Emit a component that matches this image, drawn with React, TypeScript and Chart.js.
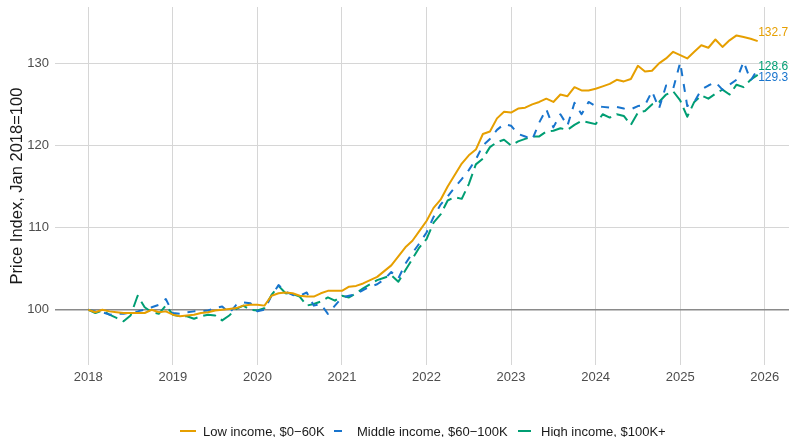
import React, { useEffect, useRef } from "react";
import { Chart, registerables } from "chart.js";

Chart.register(...registerables);

// ---- data (monthly, Jan 2018 .. Dec 2025) ----
const START_YEAR = 2018;

const seriesNames = [
  "Low income, $0\u221260K",
  "Middle income, $60\u2212100K",
  "High income, $100K+",
];

const lowIncome = [
  100.0, 99.7, 100.0, 99.8, 99.7, 99.6, 99.6, 99.6, 99.6, 100.0, 99.7, 99.8,
  99.4, 99.2, 99.3, 99.4, 99.6, 99.7, 99.9, 100.0, 100.1, 100.2, 100.5, 100.6,
  100.6, 100.5, 101.7, 102.0, 102.1, 102.0, 101.7, 101.6, 101.6, 102.0, 102.3, 102.3,
  102.3, 102.8, 102.9, 103.2, 103.6, 104.0, 104.7, 105.4, 106.5, 107.6, 108.4, 109.6,
  110.8, 112.4, 113.4, 115.0, 116.4, 117.8, 118.8, 119.5, 121.4, 121.7, 123.3, 124.1,
  124.0, 124.5, 124.6, 125.0, 125.3, 125.7, 125.3, 126.2, 126.0, 127.1, 126.7, 126.7,
  126.9, 127.2, 127.5, 128.0, 127.8, 128.1, 129.7, 129.0, 129.1, 130.0, 130.6, 131.4,
  131.0, 130.6, 131.4, 132.2, 131.9, 132.9, 132.0, 132.8, 133.4, 133.2, 133.0, 132.7,
];

const middleIncome = [
  100.0, 99.8, 99.7, 99.4, 99.5, 99.5, 99.7, 99.8, 100.0, 100.3, 100.6, 101.3,
  99.6, 99.5, 99.7, 99.8, 99.8, 99.9, 100.2, 100.4, 99.6, 100.6, 100.9, 100.8,
  99.8, 100.0, 101.7, 103.0, 102.2, 101.8, 101.7, 102.1, 100.5, 100.7, 99.5, 100.5,
  101.5, 101.7, 101.9, 102.4, 102.8, 103.1, 103.7, 104.6, 103.8, 105.6, 106.9, 108.1,
  109.4, 111.3, 112.8, 113.8, 114.9, 115.9, 117.0, 118.3, 120.0, 120.8, 121.9, 122.6,
  122.4, 121.4, 121.1, 120.7, 122.8, 124.4, 122.2, 123.8, 122.4, 125.2, 123.8, 125.3,
  124.8, 124.7, 124.6, 124.7, 124.5, 124.4, 124.8, 124.9, 126.6, 124.5, 127.3, 126.9,
  130.1, 124.8, 125.3, 126.8, 127.3, 127.7, 126.8, 127.4, 128.0, 130.2, 127.9, 129.3,
];

const highIncome = [
  100.0, 99.6, 99.9, 99.4, 99.0, 98.6, 99.3, 101.7, 100.3, 99.7, 99.5, 100.5,
  99.4, 99.2, 99.2, 98.9, 99.2, 99.4, 99.3, 98.7, 99.3, 100.1, 100.5, 100.0,
  99.9, 100.2, 101.8, 102.9, 102.0, 101.9, 101.6, 100.5, 100.7, 101.0, 101.5, 101.1,
  101.7, 101.5, 102.0, 102.6, 103.1, 103.6, 103.9, 104.2, 103.4, 104.8, 106.2, 107.6,
  108.6, 110.6, 111.6, 113.3, 113.7, 113.5, 115.3, 117.7, 118.4, 119.8, 120.4, 120.7,
  120.0, 120.5, 120.8, 121.1, 121.1, 121.7, 121.8, 122.1, 121.9, 122.5, 123.0, 122.8,
  122.6, 123.8, 123.4, 123.8, 123.6, 122.5, 124.0, 124.2, 125.0, 125.3, 126.2, 126.6,
  125.5, 123.5, 125.3, 126.1, 125.7, 126.3, 126.8, 126.2, 127.4, 127.1, 128.0, 128.6,
];

const xTicks = [2018, 2019, 2020, 2021, 2022, 2023, 2024, 2025, 2026];
const yTicks = [100, 110, 120, 130];
const yTitle = "Price Index, Jan 2018=100";

// ---- styles ----
const COLORS = ["#E69F00", "#1874CD", "#009E73"];
const DASHES: number[][] = [[], [8, 8], [13, 6]];
const LABEL_OFFSETS = [-8, 9, -8];
const FONT = '"Liberation Sans", Arial, Helvetica, sans-serif';
const W = 789;
const H = 437;

const monthTimes = lowIncome.map((_, i) => START_YEAR + i / 12);
const toPoints = (vals: number[]) => vals.map((v, i) => ({ x: monthTimes[i], y: v }));

const endLabelPlugin = {
  id: "endLabels",
  afterDatasetsDraw(chart: any) {
    const ctx = chart.ctx;
    chart.data.datasets.forEach((ds: any, i: number) => {
      const meta = chart.getDatasetMeta(i);
      const pt = meta.data[meta.data.length - 1];
      const last = ds.data[ds.data.length - 1].y;
      ctx.save();
      ctx.font = `12px ${FONT}`;
      ctx.fillStyle = ds.borderColor;
      ctx.textAlign = "left";
      ctx.textBaseline = "middle";
      ctx.fillText(last.toFixed(1), pt.x + 0.5, pt.y + LABEL_OFFSETS[i]);
      ctx.restore();
    });
  },
};

export default function App() {
  const canvasRef = useRef<HTMLCanvasElement | null>(null);

  useEffect(() => {
    if (!canvasRef.current) return;
    const seriesValues = [lowIncome, middleIncome, highIncome];
    const chart = new Chart(canvasRef.current, {
      type: "line",
      data: {
        datasets: seriesValues.map((vals, i) => ({
          label: seriesNames[i],
          data: toPoints(vals),
          borderColor: COLORS[i],
          backgroundColor: COLORS[i],
          borderWidth: 2,
          borderDash: DASHES[i],
          borderJoinStyle: "round" as const,
          borderCapStyle: "butt" as const,
          pointRadius: 0,
          tension: 0,
          fill: false,
        })),
      },
      options: {
        responsive: false,
        animation: false,
        devicePixelRatio: 1,
        layout: { padding: { top: 7, left: 0, right: 0, bottom: 0 } },
        plugins: {
          legend: { display: false },
          tooltip: { enabled: false },
        },
        scales: {
          x: {
            type: "linear",
            min: 2017.606,
            max: 2026.287,
            afterBuildTicks: (scale: any) => {
              scale.ticks = xTicks.map((v) => ({ value: v }));
            },
            afterFit: (scale: any) => {
              scale.height = 72;
              scale.paddingLeft = 0;
              scale.paddingRight = 0;
            },
            ticks: {
              autoSkip: false,
              maxRotation: 0,
              padding: 5,
              color: "#4d4d4d",
              font: { family: FONT, size: 13 },
              callback: (v: any) => String(v),
            },
            grid: { color: "#d6d6d6", lineWidth: 1, drawTicks: false },
            border: { display: false },
          },
          y: {
            type: "linear",
            min: 93.27,
            max: 136.86,
            afterBuildTicks: (scale: any) => {
              scale.ticks = yTicks.map((v) => ({ value: v }));
            },
            afterFit: (scale: any) => {
              scale.width = 55;
              scale.paddingTop = 0;
              scale.paddingBottom = 0;
            },
            ticks: {
              padding: 6,
              color: "#4d4d4d",
              font: { family: FONT, size: 13 },
              callback: (v: any) => String(v),
            },
            grid: {
              drawTicks: false,
              color: (c: any) => (c.tick && c.tick.value === 100 ? "#8a8a8a" : "#d6d6d6"),
              lineWidth: (c: any) => (c.tick && c.tick.value === 100 ? 1.6 : 1),
            },
            border: { display: false },
            title: {
              display: true,
              text: yTitle,
              color: "#1a1a1a",
              font: { family: FONT, size: 16.5 },
              padding: { top: 8, bottom: 0 },
            },
          },
        },
      },
      plugins: [endLabelPlugin],
    });
    return () => chart.destroy();
  }, []);

  const legendLefts = [180, 334, 518];

  return (
    <div
      style={{
        position: "fixed",
        left: 0,
        top: 0,
        width: W,
        height: H,
        background: "#ffffff",
        overflow: "hidden",
      }}
    >
      <canvas ref={canvasRef} width={W} height={H} style={{ width: W, height: H, display: "block" }} />
      {seriesNames.map((name, i) => (
        <div
          key={name}
          style={{
            position: "absolute",
            left: legendLefts[i],
            top: 423,
            height: 16,
            display: "flex",
            alignItems: "center",
            fontFamily: FONT,
            fontSize: 13,
            color: "#1a1a1a",
            whiteSpace: "nowrap",
          }}
        >
          <svg width={16} height={4} style={{ display: "block", marginRight: 7 }}>
            <line
              x1={0}
              y1={2}
              x2={16}
              y2={2}
              stroke={COLORS[i]}
              strokeWidth={2}
              strokeDasharray={DASHES[i].length ? DASHES[i].join(" ") : undefined}
            />
          </svg>
          <span>{name}</span>
        </div>
      ))}
    </div>
  );
}
